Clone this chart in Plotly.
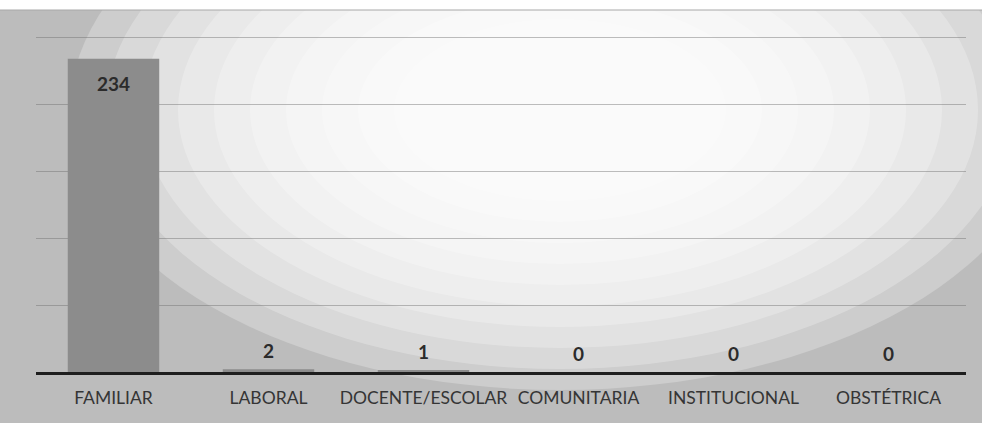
import plotly.graph_objects as go

categories = ['FAMILIAR', 'LABORAL', 'DOCENTE/ESCOLAR', 'COMUNITARIA', 'INSTITUCIONAL', 'OBSTÉTRICA']
values = [234, 2, 1, 0, 0, 0]

W, H = 982, 423
L, R, T, B = 36, 16, 36, 51

def px_x(px):
  return (px - L) / (W - L - R)

def px_y(py):
  return (H - B - py) / (H - T - B)

fig = go.Figure()
fig.add_trace(go.Bar(x=categories, y=values, marker_color='#8c8c8c',
                     marker_line_width=0, hoverinfo='x+y'))

# value labels: inside top for the tall bar, above the others
for cat, v in zip(categories, values):
  if v > 100:
    shift = -25
  else:
    shift = 19
  fig.add_annotation(x=cat, y=v, text=str(v), showarrow=False, yshift=shift,
                     font=dict(family='Lato, Open Sans, sans-serif', size=19,
                               color='#2b2b2b', weight='bold'))

# scanned-page glare: stacked white ellipses on a grey page
shapes = []
cx, cy = 560, 110
n = 10
for i in range(n):
  f = 1 - i / n
  rx = 130 + 360 * f
  ry = 70 + 210 * f
  shapes.append(dict(type='circle', xref='paper', yref='paper', layer='below',
                     x0=px_x(cx - rx), x1=px_x(cx + rx),
                     y0=px_y(cy + ry), y1=px_y(cy - ry),
                     fillcolor='white', opacity=0.25, line_width=0))
# white strip at the top edge of the scan
shapes.append(dict(type='rect', xref='paper', yref='paper', layer='below',
                   x0=px_x(-5), x1=px_x(W + 5), y0=px_y(10), y1=px_y(-5),
                   fillcolor='white', line_width=0))
shapes.append(dict(type='line', xref='paper', yref='paper', layer='below',
                   x0=px_x(0), x1=px_x(W), y0=px_y(10), y1=px_y(10),
                   line=dict(color='#a8a8a8', width=1)))

fig.update_layout(
  width=W, height=H,
  margin=dict(l=L, r=R, t=T, b=B),
  paper_bgcolor='#bcbcbc',
  plot_bgcolor='rgba(0,0,0,0)',
  bargap=0.41,
  showlegend=False,
  shapes=shapes,
  font=dict(family='Lato, Open Sans, sans-serif', color='#333333'),
)
fig.update_xaxes(showline=True, linecolor='#1e1e1e', linewidth=3,
                 showgrid=False, ticks='outside', ticklen=8,
                 tickcolor='rgba(0,0,0,0)', tickfont=dict(size=17.5, color='#353535'))
fig.update_yaxes(range=[0, 251], dtick=50, showticklabels=False,
                 showgrid=True, gridcolor='rgba(110,110,110,0.45)', gridwidth=1,
                 zeroline=False)

fig.write_html('out.html', config={'displayModeBar': False},
               post_script="document.body.style.margin='0';")
